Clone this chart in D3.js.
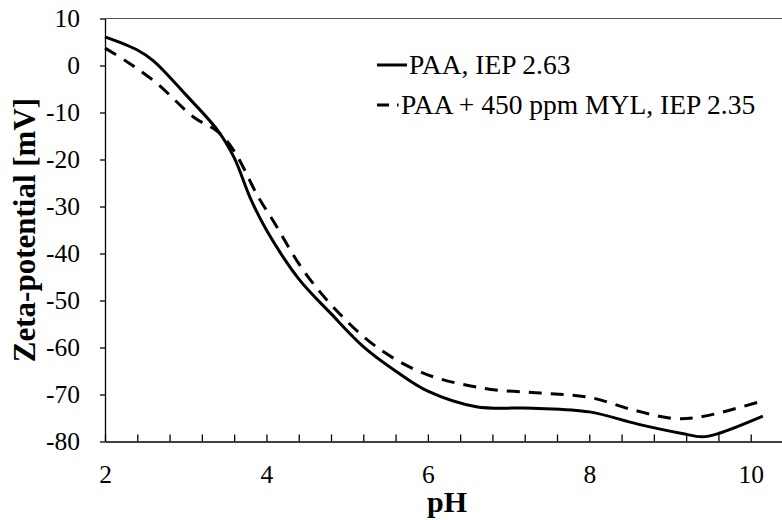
<!DOCTYPE html>
<html lang="en">
<head>
    <title>Zeta potential</title>
    <script src="https://d3js.org/d3.v7.min.js"></script>
    <style>
        body { margin: 0; background: #fff; }
        svg text { font-family: "Liberation Serif", "Times New Roman", serif; fill: #000; }
    </style>
</head>
<body>

<script>
    // pH values and zeta-potential (mV)
    const paaPH   = [2.0, 2.4, 2.6, 3.0, 3.4, 3.6, 3.8, 4.0, 4.4, 4.8, 5.2, 5.6, 6.0, 6.6, 7.3, 8.0, 8.6, 9.15, 9.4, 9.6, 10.15];
    const paaZeta = [6.1, 3.3, 1.0, -6.2, -13.9, -19.6, -28.2, -35.0, -45.4, -52.8, -59.8, -65.0, -69.3, -72.6, -72.9, -73.7, -76.3, -78.3, -79.0, -78.3, -74.6];

    const mylPH   = [2.0, 2.3, 2.65, 3.1, 3.4, 3.6, 3.9, 4.1, 4.45, 4.85, 5.35, 5.95, 6.7, 7.4, 8.0, 8.55, 9.05, 9.4, 10.12];
    const mylZeta = [3.7, 0.5, -3.9, -11.0, -14.1, -18.2, -28.0, -33.5, -43.4, -51.8, -59.7, -65.5, -68.7, -69.7, -70.6, -73.3, -75.1, -74.7, -71.5];

    const seriesNames = ["PAA, IEP 2.63", "PAA + 450 ppm MYL, IEP 2.35"];
    const xTickLabels = [2, 4, 6, 8, 10];
    const yTickLabels = [10, 0, -10, -20, -30, -40, -50, -60, -70, -80];

    const width = 782, height = 520;
    const plotLeft = 105, plotRight = 783, plotTop = 18.5, plotBottom = 441.5;
    const serif = "'Liberation Serif', 'Times New Roman', serif";

    const svg = d3.select("body").append("svg")
            .attr("width", width)
            .attr("height", height);

    const x = d3.scaleLinear().domain([2, 10.4]).range([plotLeft, plotRight]);
    const y = d3.scaleLinear().domain([-80, 10]).range([plotBottom, plotTop]);

    // top border
    svg.append("line")
            .attr("x1", plotLeft).attr("x2", plotRight)
            .attr("y1", plotTop).attr("y2", plotTop)
            .attr("stroke", "#555").attr("stroke-width", 1.2);

    // x axis, minor ticks every 0.4 pointing inward
    const xTicks = d3.range(0, 22).map(i => +(2 + i * 0.4).toFixed(1));
    const xAxis = svg.append("g")
            .attr("transform", `translate(0,${plotBottom})`)
            .call(d3.axisBottom(x)
                    .tickValues(xTicks)
                    .tickSizeInner(-7)
                    .tickSizeOuter(0)
                    .tickPadding(23)
                    .tickFormat(d => xTickLabels.includes(d) ? d : ""));

    const yAxis = svg.append("g")
            .attr("transform", `translate(${plotLeft},0)`)
            .call(d3.axisLeft(y)
                    .tickValues(yTickLabels)
                    .tickSizeInner(5)
                    .tickSizeOuter(0)
                    .tickPadding(20)
                    .tickFormat(d => String(d)));

    svg.selectAll("g").attr("font-family", serif).attr("font-size", 25);
    svg.selectAll(".tick text").style("font-family", serif).style("font-size", "25.5px");
    svg.selectAll(".domain, .tick line").attr("stroke", "#000").attr("stroke-width", 1.3);

    const line = d3.line()
            .x(d => x(d[0]))
            .y(d => y(d[1]))
            .curve(d3.curveCatmullRom.alpha(0.5));

    svg.append("path")
            .datum(d3.zip(paaPH, paaZeta))
            .attr("d", line)
            .attr("fill", "none")
            .attr("stroke", "#000")
            .attr("stroke-width", 3);

    svg.append("path")
            .datum(d3.zip(mylPH, mylZeta))
            .attr("d", line)
            .attr("fill", "none")
            .attr("stroke", "#000")
            .attr("stroke-width", 3)
            .attr("stroke-dasharray", "13,9");

    // axis titles
    svg.append("text")
            .attr("x", 447)
            .attr("y", 512)
            .attr("text-anchor", "middle")
            .style("font-family", serif)
            .style("font-size", "30px")
            .style("font-weight", "bold")
            .text("pH");

    svg.append("text")
            .attr("transform", `translate(35,${(plotTop + plotBottom) / 2}) rotate(-90)`)
            .attr("text-anchor", "middle")
            .style("font-family", serif)
            .style("font-size", "31px")
            .style("font-weight", "bold")
            .text("Zeta-potential [mV]");

    // legend
    const legend = svg.append("g");
    legend.append("line")
            .attr("x1", 377).attr("x2", 407)
            .attr("y1", 65).attr("y2", 65)
            .attr("stroke", "#000").attr("stroke-width", 3);
    legend.append("text")
            .attr("x", 409).attr("y", 73.5)
            .style("font-family", serif)
            .style("font-size", "27.5px")
            .text(seriesNames[0]);

    legend.append("line")
            .attr("x1", 377).attr("x2", 398.5)
            .attr("y1", 105).attr("y2", 105)
            .attr("stroke", "#000").attr("stroke-width", 3)
            .attr("stroke-dasharray", "12,8,2");
    legend.append("text")
            .attr("x", 401).attr("y", 113.5)
            .style("font-family", serif)
            .style("font-size", "27.5px")
            .text(seriesNames[1]);
</script>

</body>
</html>
